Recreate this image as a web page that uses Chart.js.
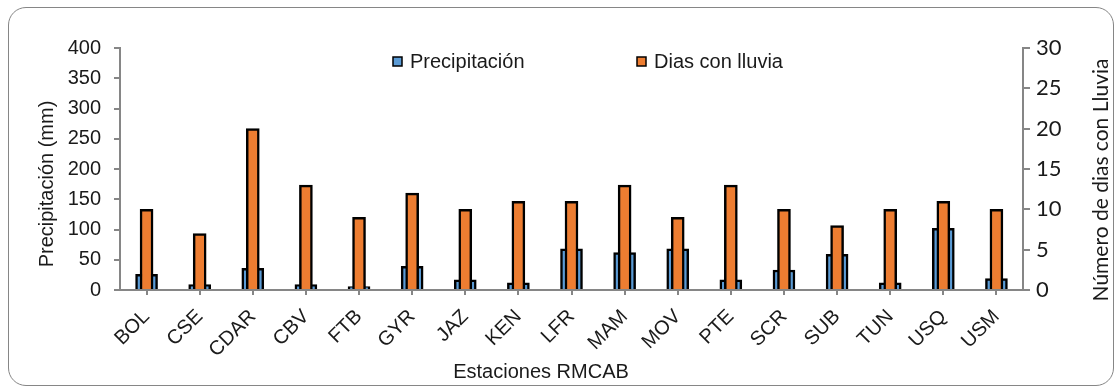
<!DOCTYPE html>
<html>
<head>
<meta charset="utf-8">
<script src="https://cdn.jsdelivr.net/npm/chart.js@4.4.1/dist/chart.umd.min.js"></script>
<style>
    html, body { margin: 0; padding: 0; background: #fff; }
    #frame {
        position: absolute; left: 8px; top: 7px; width: 1106px; height: 379px;
        border: 1.5px solid #868686; border-radius: 18px; box-sizing: border-box;
    }
    #c { position: absolute; left: 0; top: 0; }
</style>
</head>
<body>
<div id="frame"></div>
<canvas id="c" width="1116" height="387"></canvas>
<script>
// stations (x axis)
let estaciones = ['BOL', 'CSE', 'CDAR', 'CBV', 'FTB', 'GYR', 'JAZ', 'KEN', 'LFR',
                  'MAM', 'MOV', 'PTE', 'SCR', 'SUB', 'TUN', 'USQ', 'USM']

// precipitation (mm), left axis
let precipitacion = [26, 9, 36, 9, 5.5, 39, 17, 12, 68, 62, 68, 17, 33, 59, 12, 102, 19]

// rainy days, right axis
let diasLluvia = [10, 7, 20, 13, 9, 12, 10, 11, 11, 13, 9, 13, 10, 8, 10, 11, 10]

let precipTicks = { min: 0, max: 400, step: 50 }
let diasTicks = { min: 0, max: 30, step: 5 }

const ARIAL = "'Liberation Sans', Arial, sans-serif"
const CALIBRI = "Lato, 'Open Sans', sans-serif"
const AXIS_GRAY = '#868686'
const TEXT = '#1a1a1a'

// legend + axis titles drawn by hand (Excel-like placement)
let excelDecor = {
    id: 'excelDecor',
    afterDraw(chart) {
        let ctx = chart.ctx
        ctx.save()

        // legend
        let items = [
            { ds: chart.data.datasets[1], x: 393 },
            { ds: chart.data.datasets[0], x: 637 }
        ]
        ctx.font = '20px ' + ARIAL
        ctx.textBaseline = 'middle'
        ctx.textAlign = 'left'
        items.forEach(it => {
            ctx.fillStyle = it.ds.backgroundColor
            ctx.fillRect(it.x, 57, 9, 9)
            ctx.lineWidth = 1.5
            ctx.strokeStyle = '#000'
            ctx.strokeRect(it.x, 57, 9, 9)
            ctx.fillStyle = TEXT
            ctx.fillText(it.ds.label, it.x + 17, 62)
        })

        // left title
        ctx.font = '20px ' + ARIAL
        ctx.textAlign = 'center'
        ctx.translate(47, 184)
        ctx.rotate(-Math.PI / 2)
        ctx.fillText('Precipitación (mm)', 0, 0)
        ctx.setTransform(1, 0, 0, 1, 0, 0)

        // right title (reads bottom-up like Excel)
        ctx.font = '21px ' + CALIBRI
        ctx.translate(1101, 180)
        ctx.rotate(-Math.PI / 2)
        ctx.fillText('Número de dias con Lluvia', 0, 0)
        ctx.setTransform(1, 0, 0, 1, 0, 0)

        // x title
        ctx.font = '20px ' + ARIAL
        ctx.fillText('Estaciones RMCAB', 541, 372)

        ctx.restore()
    }
}

let chart = new Chart(document.getElementById('c'), {
    type: 'bar',
    data: {
        labels: estaciones,
        datasets: [
            {
                label: 'Dias con lluvia',
                data: diasLluvia,
                yAxisID: 'y2',
                backgroundColor: '#ED7D31',
                borderColor: '#000',
                borderWidth: 2.5,
                barThickness: 13,
                grouped: false,
                order: 0
            },
            {
                label: 'Precipitación',
                data: precipitacion,
                yAxisID: 'y',
                backgroundColor: '#5B9BD5',
                borderColor: '#000',
                borderWidth: 2.5,
                barThickness: 22,
                grouped: false,
                order: 1
            }
        ]
    },
    options: {
        responsive: false,
        animation: false,
        layout: { padding: { top: 48, left: 0, right: 0, bottom: 0 } },
        plugins: {
            legend: { display: false },
            tooltip: { enabled: false }
        },
        scales: {
            x: {
                offset: true,
                grid: { offset: false, drawOnChartArea: false, tickLength: 5, color: AXIS_GRAY, lineWidth: 2 },
                border: { color: AXIS_GRAY, width: 2 },
                ticks: { minRotation: 45, maxRotation: 45, padding: 10, color: TEXT, font: { family: ARIAL, size: 20 } },
                afterFit: s => { s.height = 97 }
            },
            y: {
                position: 'left',
                min: precipTicks.min,
                max: precipTicks.max,
                grid: { drawOnChartArea: false, tickLength: 6, color: AXIS_GRAY, lineWidth: 2 },
                border: { color: AXIS_GRAY, width: 2 },
                ticks: { stepSize: precipTicks.step, padding: 13, color: TEXT, font: { family: ARIAL, size: 20 } },
                afterFit: s => { s.width = 120 }
            },
            y2: {
                position: 'right',
                min: diasTicks.min,
                max: diasTicks.max,
                grid: { drawOnChartArea: false, tickLength: 7, color: AXIS_GRAY, lineWidth: 2 },
                border: { color: AXIS_GRAY, width: 2 },
                ticks: { stepSize: diasTicks.step, padding: 6, color: TEXT, font: { family: CALIBRI, size: 22 } },
                afterFit: s => { s.width = 93 }
            }
        }
    },
    plugins: [excelDecor]
})
</script>
</body>
</html>
